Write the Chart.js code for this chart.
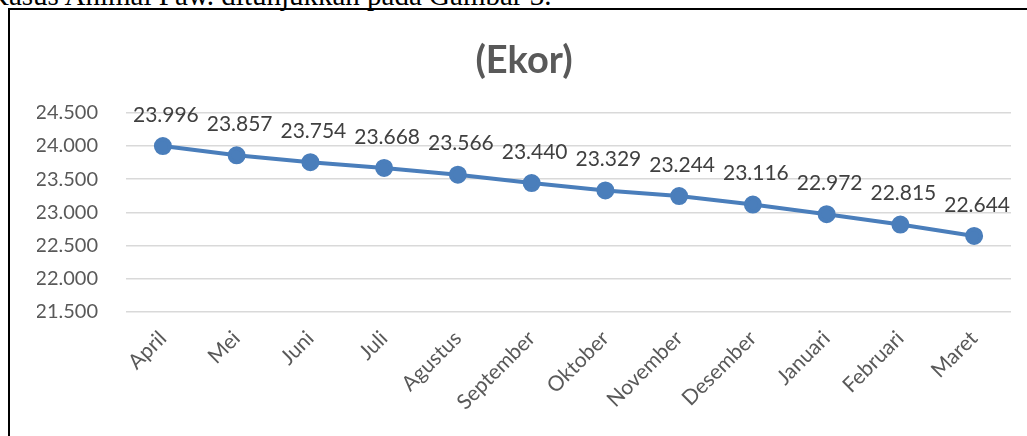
<!DOCTYPE html>
<html>
<head>
<meta charset="utf-8">
<script src="https://cdn.jsdelivr.net/npm/chart.js@4"></script>
<style>
html,body{margin:0;padding:0;background:#fff;overflow:hidden;width:1027px;height:436px;}
#doc{position:absolute;left:-12px;top:-19px;font-family:"Liberation Serif",serif;font-size:29px;line-height:29px;white-space:nowrap;color:#000;}
#frame{position:absolute;left:8px;top:8px;width:1100px;height:500px;border:2px solid #000;box-sizing:border-box;background:transparent;}
#wrap{position:absolute;left:0;top:0;width:1027px;height:436px;}
</style>
</head>
<body>
<div id="doc">Kasus Animal Paw. ditunjukkan pada Gambar 3.</div>
<div id="wrap"><canvas id="c" width="1027" height="436"></canvas></div>
<div id="frame"></div>
<script>
const categories = ["April","Mei","Juni","Juli","Agustus","September","Oktober","November","Desember","Januari","Februari","Maret"];
const values = [23996,23857,23754,23668,23566,23440,23329,23244,23116,22972,22815,22644];
const yTicks = [21500,22000,22500,23000,23500,24000,24500];
const titleText = "(Ekor)";

const FONT = "Lato";
function fmt3(v){ const s=String(Math.round(v)); return s.slice(0,s.length-3)+"."+s.slice(-3); }

const labelPlugin = {
  id:"pointLabels",
  afterDatasetsDraw(chart){
    const ctx = chart.ctx;
    const meta = chart.getDatasetMeta(0);
    ctx.save();
    ctx.font = "21px " + FONT;
    ctx.fillStyle = "#404040";
    ctx.textAlign = "center";
    ctx.textBaseline = "middle";
    meta.data.forEach((pt,i)=>{
      ctx.fillText(fmt3(values[i]), pt.x + 3, pt.y - 31);
    });
    ctx.restore();
  }
};

new Chart(document.getElementById("c"),{
  type:"line",
  data:{
    labels:categories,
    datasets:[{
      data:values,
      borderColor:"#4a7ebb",
      backgroundColor:"#4a7ebb",
      borderWidth:4,
      pointRadius:7,
      pointHoverRadius:7,
      pointBackgroundColor:"#4a7ebb",
      pointBorderColor:"#4a7ebb",
      tension:0,
      fill:false
    }]
  },
  options:{
    responsive:false,
    animation:false,
    devicePixelRatio:1,
    layout:{padding:{left:37,right:16,top:0,bottom:0}},
    plugins:{
      legend:{display:false},
      tooltip:{enabled:false},
      title:{
        display:true,
        text:titleText,
        color:"#595959",
        font:{family:FONT,size:38,weight:"bold"},
        padding:{top:38,bottom:29}
      }
    },
    scales:{
      x:{
        offset:true,
        grid:{display:false,drawTicks:false},
        border:{display:false},
        ticks:{
          color:"#595959",
          font:{family:FONT,size:21},
          minRotation:45,maxRotation:45,
          padding:14,
          autoSkip:false
        },
        afterFit(s){ s.height = 124; }
      },
      y:{
        min:21500,max:24500,
        afterBuildTicks(s){ s.ticks = yTicks.map(v=>({value:v})); },
        grid:{color:"#d9d9d9",lineWidth:1.5,drawTicks:false},
        border:{display:false},
        ticks:{
          color:"#595959",
          font:{family:FONT,size:20},
          padding:28,
          callback:(v)=>fmt3(v)
        },
        afterFit(s){ s.width = 89; }
      }
    }
  },
  plugins:[labelPlugin]
});
</script>
</body>
</html>
